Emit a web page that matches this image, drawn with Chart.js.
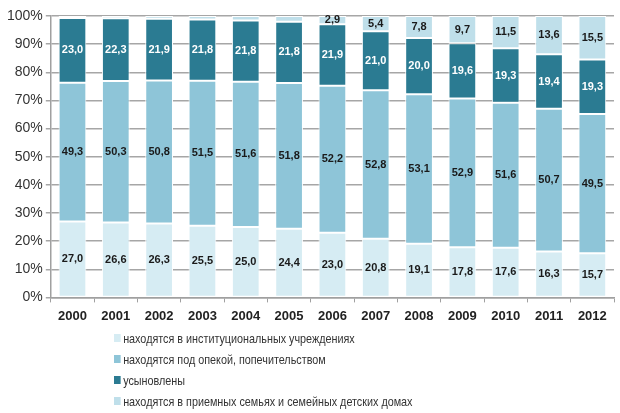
<!DOCTYPE html>
<html>
<head>
<meta charset="utf-8">
<script src="https://cdn.jsdelivr.net/npm/chart.js@4"></script>
<style>
  body { margin: 0; background: #fff; font-family: "Liberation Sans", Arial, sans-serif; }
  #wrap { position: relative; width: 620px; height: 413px; }
  #legenda { position: absolute; left: 114px; top: 328px; font-size: 13px; color: #333;
             transform: scaleX(0.83); transform-origin: 0 0; }
  #legenda div { height: 21px; line-height: 21px; white-space: nowrap; }
  #legenda span { display: inline-block; width: 8px; height: 8px; margin-right: 3px; vertical-align: 1px; }
</style>
</head>
<body>
<div id="wrap">
  <canvas id="grafico" width="620" height="330"></canvas>
  <div id="legenda"></div>
</div>
<script>
const anos = ["2000", "2001", "2002", "2003", "2004", "2005", "2006", "2007", "2008", "2009", "2010", "2011", "2012"];
const nombres = [
  "находятся в институциональных учреждениях",
  "находятся под опекой, попечительством",
  "усыновлены",
  "находятся в приемных семьях и семейных детских домах"
];
const instituciones = [27.0, 26.6, 26.3, 25.5, 25.0, 24.4, 23.0, 20.8, 19.1, 17.8, 17.6, 16.3, 15.7];
const tutela = [49.3, 50.3, 50.8, 51.5, 51.6, 51.8, 52.2, 52.8, 53.1, 52.9, 51.6, 50.7, 49.5];
const adoptados = [23.0, 22.3, 21.9, 21.8, 21.8, 21.8, 21.9, 21.0, 20.0, 19.6, 19.3, 19.4, 19.3];
// los primeros años no tienen etiqueta en el original, solo un resto pequeño arriba
const familias = [0.7, 0.8, 1.0, 1.2, 1.6, 2.0, 2.9, 5.4, 7.8, 9.7, 11.5, 13.6, 15.5];

const colores = ["#d6ecf3", "#8ec5d8", "#2b7b92", "#bfdfea"];
const colorTexto = ["#1a1a1a", "#1a1a1a", "#ffffff", "#1a1a1a"];

/* ------------ etiquetas dentro de las barras ------------ */
const etiquetas = {
  id: "etiquetas",
  afterDatasetsDraw(chart) {
    const ctx = chart.ctx;
    ctx.save();
    ctx.font = "bold 11px 'Liberation Sans', Arial, sans-serif";
    ctx.textAlign = "center";
    ctx.textBaseline = "middle";
    chart.data.datasets.forEach((ds, i) => {
      const meta = chart.getDatasetMeta(i);
      meta.data.forEach((bar, j) => {
        const v = ds.data[j];
        if (v < 2.5) return; // sin etiqueta
        const { x, y, base } = bar.getProps(["x", "y", "base"], true);
        ctx.fillStyle = colorTexto[i];
        ctx.fillText(v.toFixed(1).replace(".", ","), x, (y + base) / 2);
      });
    });
    ctx.restore();
  }
};

const series = [instituciones, tutela, adoptados, familias];

const grafico = new Chart(document.getElementById("grafico"), {
  type: "bar",
  data: {
    labels: anos,
    datasets: series.map((d, i) => ({
      label: nombres[i],
      data: d,
      backgroundColor: colores[i],
      borderColor: "#ffffff",
      borderWidth: 1,
      borderSkipped: false,
      categoryPercentage: 1,
      barPercentage: 0.64
    }))
  },
  options: {
    responsive: false,
    animation: false,
    layout: { padding: { top: 16, right: 6, left: 4, bottom: 0 } },
    plugins: { legend: { display: false }, tooltip: { enabled: false } },
    scales: {
      x: {
        stacked: true,
        grid: { display: true, drawOnChartArea: false, offset: true, color: "#a0a0a0", tickLength: 5 },
        border: { display: true, color: "#a0a0a0", width: 1.5 },
        ticks: { color: "#222", padding: 6, font: { family: "'Liberation Sans', Arial", size: 13, weight: "bold" } }
      },
      y: {
        stacked: true,
        min: 0,
        max: 100,
        grid: { color: "#a6a6a6", lineWidth: 1.5, tickLength: 5 },
        border: { display: true, color: "#a0a0a0", width: 1.5 },
        ticks: {
          stepSize: 10,
          color: "#333",
          padding: 3,
          font: { family: "'Liberation Sans', Arial", size: 14 },
          callback: v => v + "%"
        }
      }
    }
  },
  plugins: [etiquetas]
});

/* ------------ leyenda en columna ------------ */
const leyenda = document.getElementById("legenda");
grafico.data.datasets.forEach(ds => {
  const fila = document.createElement("div");
  const cuadro = document.createElement("span");
  cuadro.style.background = ds.backgroundColor;
  fila.appendChild(cuadro);
  fila.appendChild(document.createTextNode(ds.label));
  leyenda.appendChild(fila);
});
</script>
</body>
</html>
